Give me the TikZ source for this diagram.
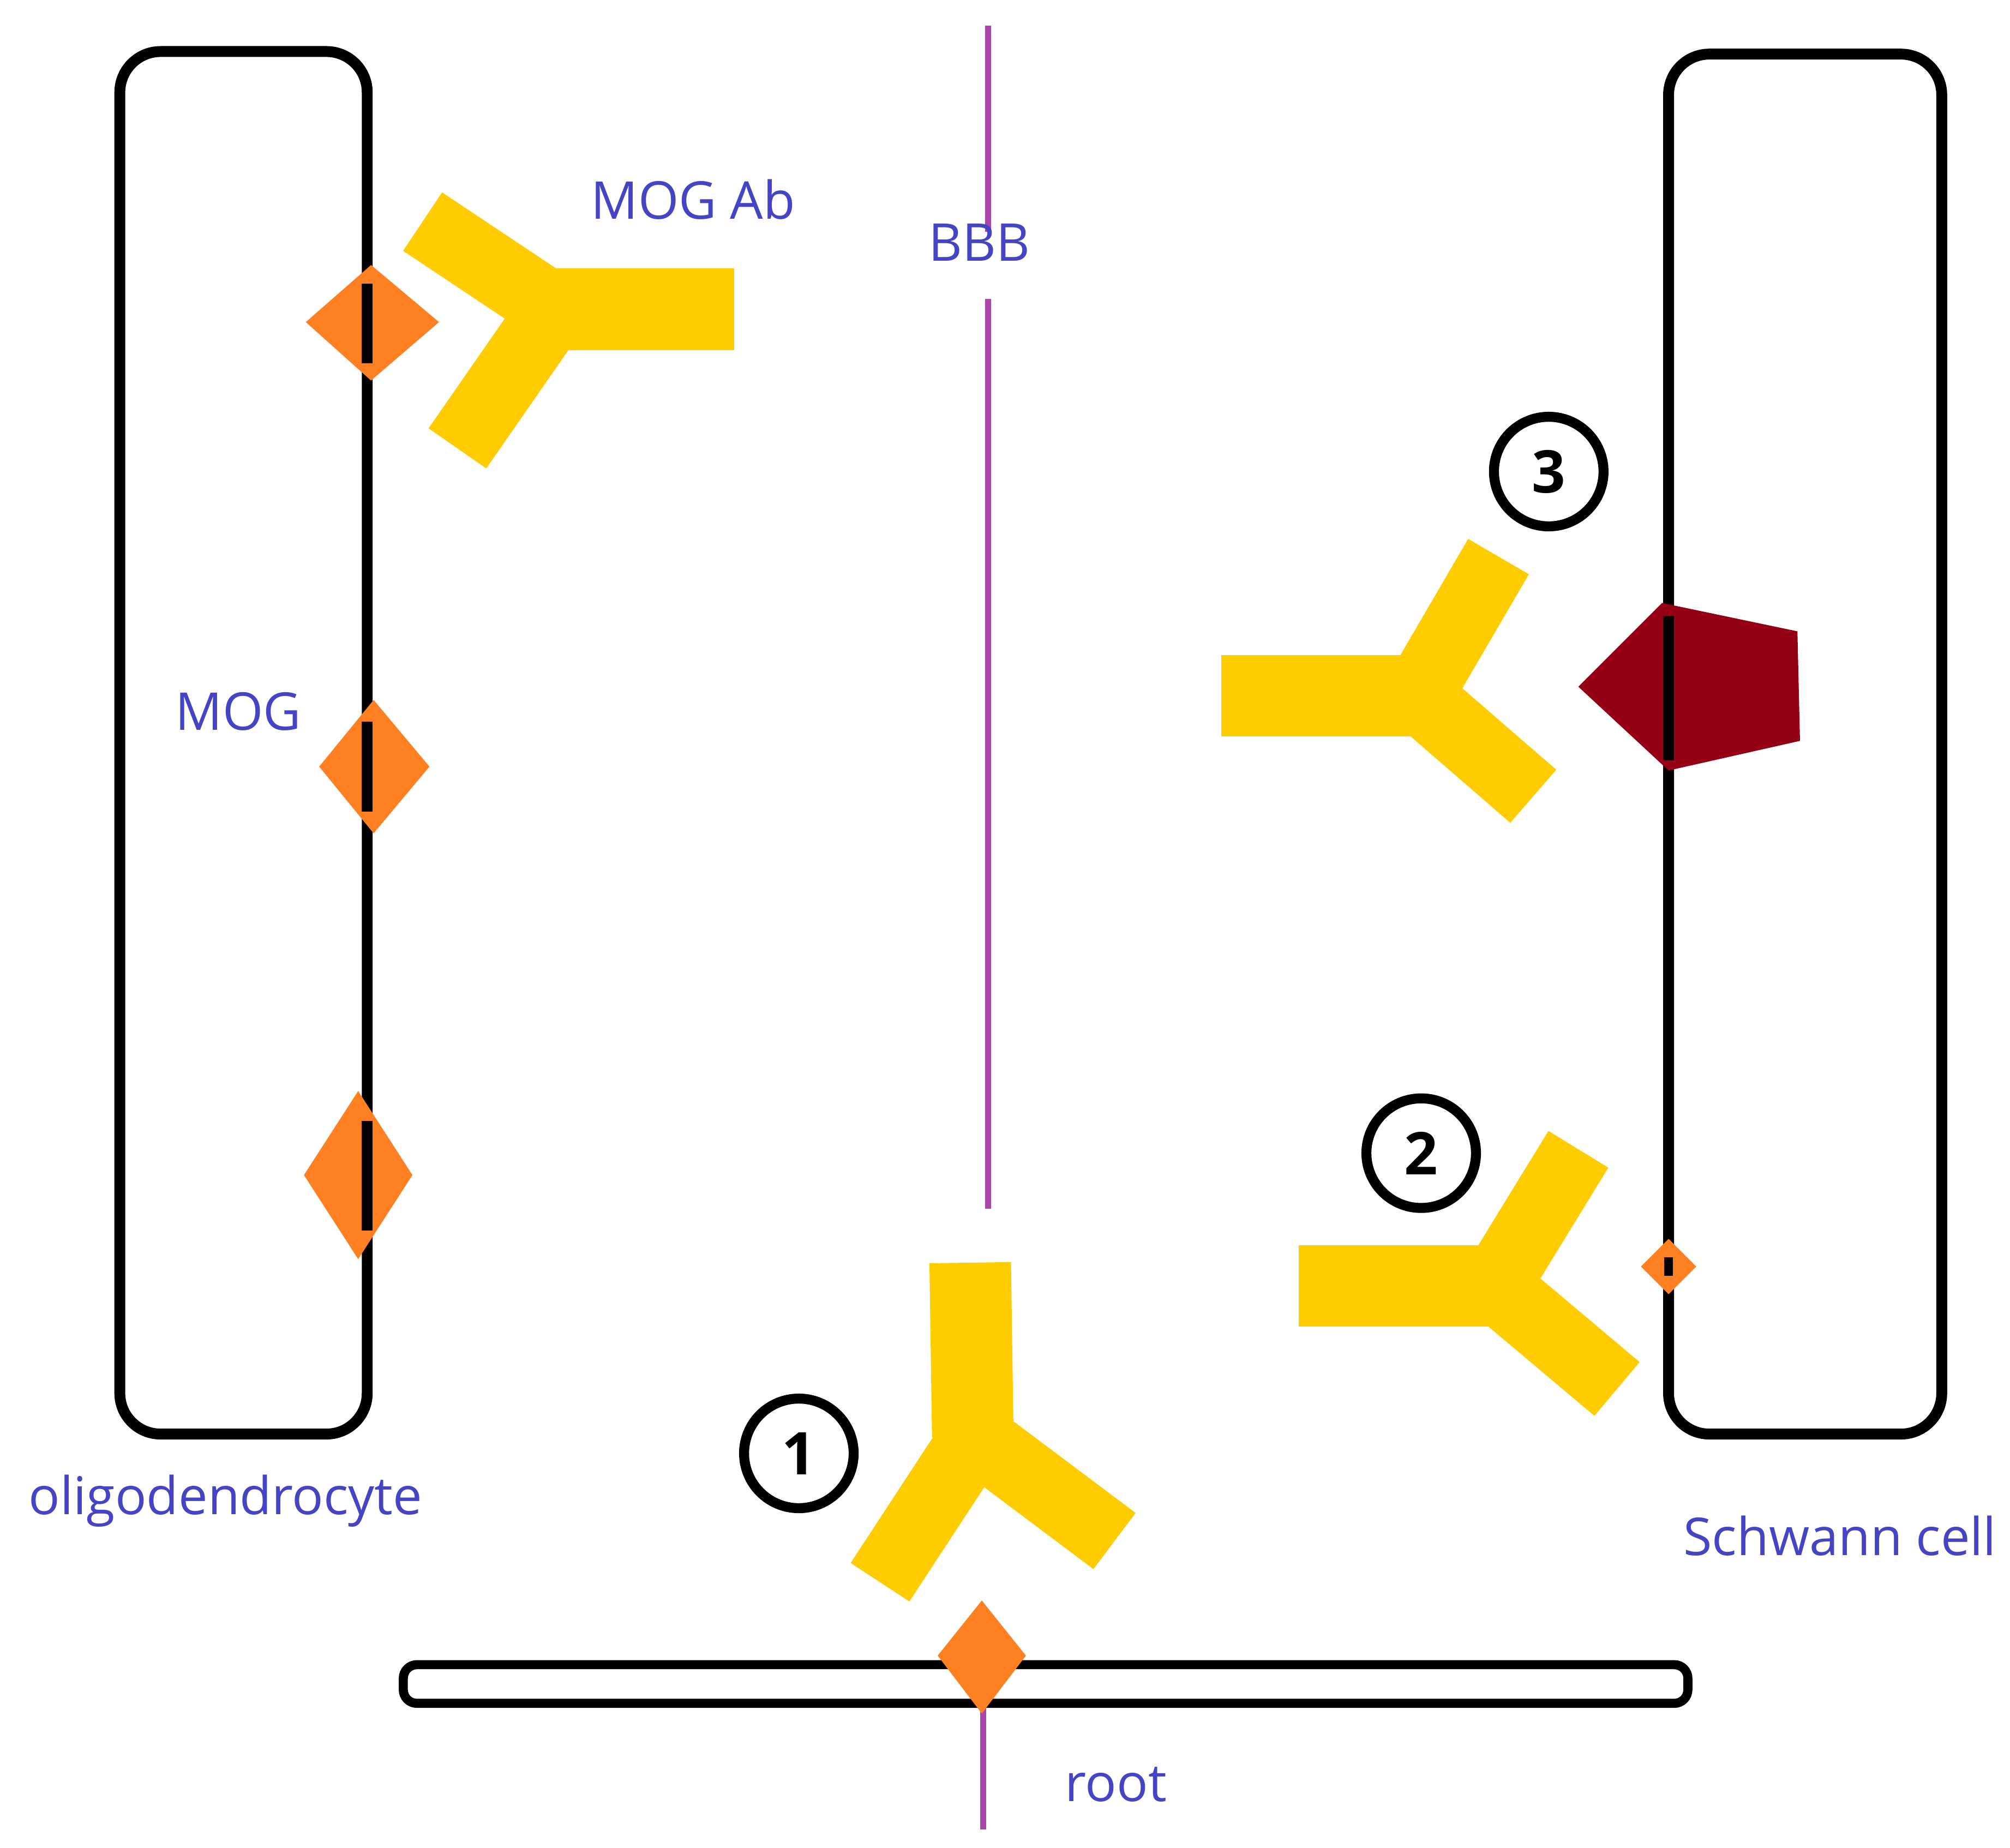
\documentclass[tikz,border=0pt]{standalone}
\usepackage{fontspec}
\setmainfont{Open Sans}
\usetikzlibrary{calc}
\definecolor{ablue}{RGB}{68,68,196}
\definecolor{abyel}{RGB}{255,204,0}
\definecolor{mogorg}{RGB}{255,128,32}
\definecolor{bbbpur}{RGB}{170,70,170}
\definecolor{darkred}{RGB}{150,0,20}
\begin{document}
\begin{tikzpicture}[x=0.01cm,y=-0.01cm]
  \tikzstyle{cellwall} = [draw=black,line width=2.4pt,rounded corners=9pt]
  \tikzstyle{lbl} = [text=ablue,font=\fontsize{11.5}{13}\selectfont]
  \tikzstyle{bbb} = [draw=bbbpur,line width=1.3pt]
  \tikzstyle{mog} = [fill=mogorg,draw=mogorg,line width=1pt]
  \tikzstyle{stem} = [draw=abyel,line width=18pt]
  \tikzstyle{arm} = [draw=abyel,line width=15.5pt]
  \tikzstyle{num} = [circle,draw=black,line width=2.2pt,minimum size=0.85cm,
    inner sep=0pt,font=\bfseries\fontsize{13}{15}\selectfont]

  \useasboundingbox (0,0) rectangle (1560,1434);

  % cells
  \draw[cellwall] (93,40) rectangle (285,1113);
  \draw[cellwall] (1295,42) rectangle (1507,1113);
  \draw[draw=black,line width=2pt,rounded corners=3pt] (313,1292) rectangle (1310,1322);

  % blood brain barrier
  \draw[bbb] (767,20) -- (767,180);
  \draw[bbb] (767,232) -- (767,938);
  \draw[bbb] (763,1310) -- (763,1420);

  % MOG on the oligodendrocyte
  \draw[mog] (240,250) -- (288,208) -- (338,250) -- (288,293) -- cycle;
  \draw[mog] (250,595) -- (290,546) -- (331,595) -- (290,644) -- cycle;
  \draw[mog] (238,912) -- (278,850) -- (318,912) -- (278,974) -- cycle;
  \draw[black,line width=2.4pt] (285,220) -- (285,282);
  \draw[black,line width=2.4pt] (285,560) -- (285,630);
  \draw[black,line width=2.4pt] (285,870) -- (285,955);
  % MOG on root and Schwann cell
  \draw[mog] (730,1285) -- (762,1245) -- (794,1285) -- (762,1327) -- cycle;
  \draw[mog] (1276,983) -- (1295,964) -- (1314,983) -- (1295,1002) -- cycle;
  \draw[black,line width=2pt] (1295,976) -- (1295,990);
  % other antigen
  \fill[darkred] (1225,533) -- (1290,468) -- (1395,490) -- (1397,575) -- (1295,598) -- cycle;
  \draw[black,line width=2.4pt] (1295,478) -- (1295,590);

  % antibodies
  \draw[stem] (570,240) -- (418,240);
  \draw[arm] (430,240) -- (328,172);
  \draw[arm] (430,240) -- (355,348);
  \draw[stem] (753,980) -- (755,1115);
  \draw[arm] (757,1115) -- (683,1228);
  \draw[arm] (757,1115) -- (865,1196);
  \draw[stem] (948,540) -- (1112,540);
  \draw[arm] (1100,540) -- (1163,432);
  \draw[arm] (1100,540) -- (1190,618);
  \draw[stem] (1008,998) -- (1172,998);
  \draw[arm] (1160,998) -- (1225,892);
  \draw[arm] (1160,998) -- (1255,1078);

  % numbers
  \node[num] (n1) at (620,1128) {1};
  \node[num] (n2) at (1103,895) {2};
  \node[num] (n3) at (1202,366) {3};

  % labels
  \node[lbl] (mogab) at (538,155) {MOG Ab};
  \node[lbl] (bbblbl) at (760,188) {BBB};
  \node[lbl] (moglbl) at (185,552) {MOG};
  \node[lbl] (olig) at (175,1165) {oligodendrocyte};
  \node[lbl] (schw) at (1428,1192) {Schwann cell};
  \node[lbl] (root) at (866,1385) {root};
\end{tikzpicture}
\end{document}
